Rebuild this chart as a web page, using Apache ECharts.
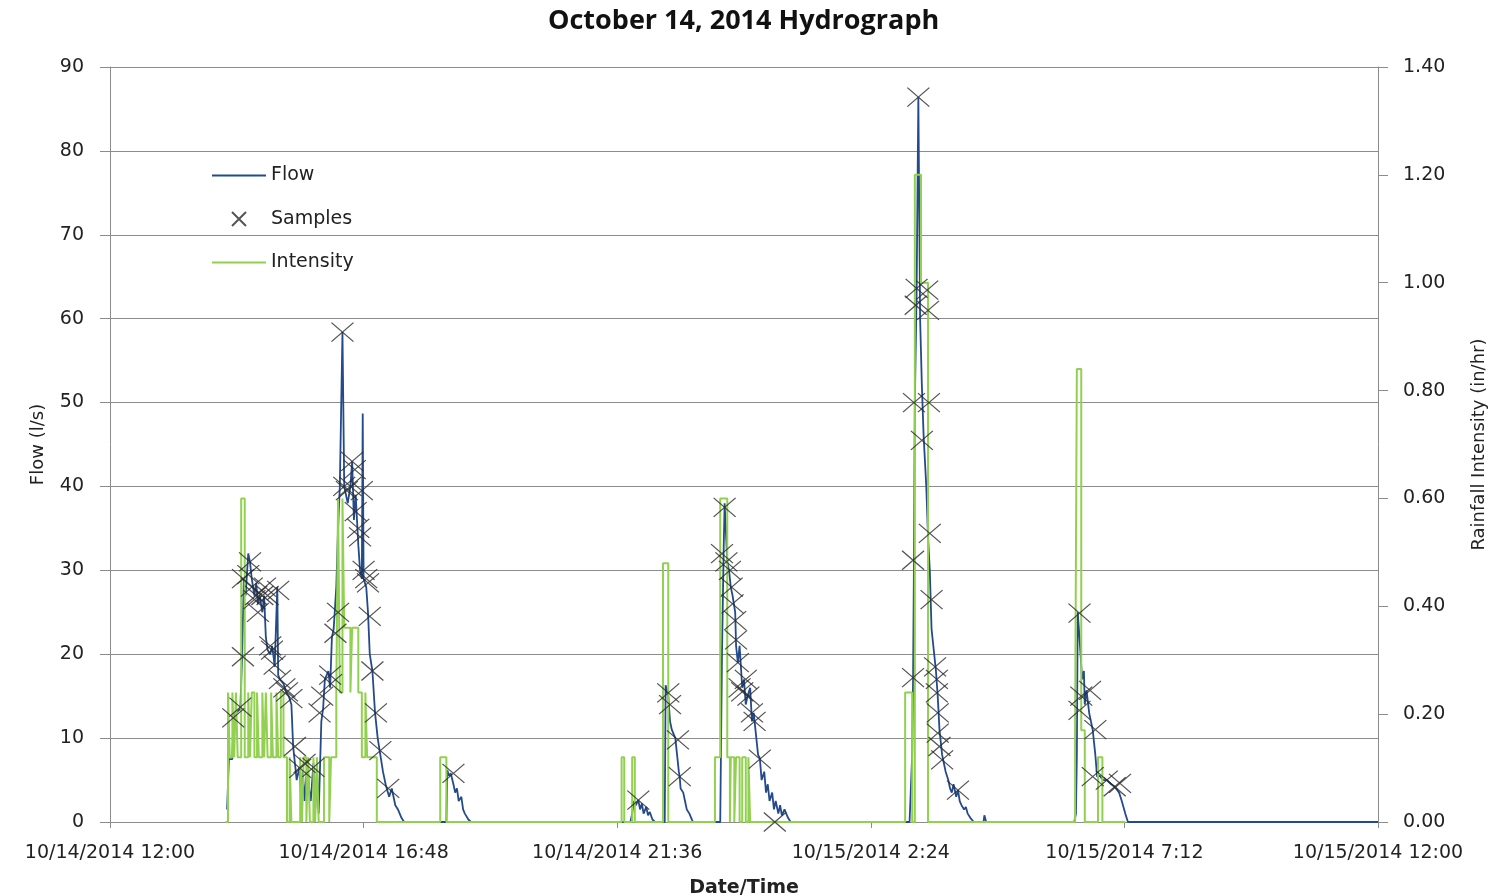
<!DOCTYPE html>
<html>
<head>
<meta charset="utf-8">
<script src="https://cdn.jsdelivr.net/npm/echarts@6/dist/echarts.min.js"></script>
<style>
html,body{margin:0;padding:0;background:#fff;overflow:hidden;}
#chart{width:1494px;height:896px;}
</style>
</head>
<body>
<div id="chart"></div>
<script>
// Time values are minutes after 10/14/2014 12:00
const xTickLabels = ['10/14/2014 12:00','10/14/2014 16:48','10/14/2014 21:36','10/15/2014 2:24','10/15/2014 7:12','10/15/2014 12:00'];

const flowTimes = [133,135,139,140,143,148,150,152,154,157,159,161,164,166,168,170,173,175,177,179,182,184,186,187,190,191,193,197,200,203,206,208,210,212,215,217,219,221,224,226,228,231,233,235,237,240,242,244,248,250,252,254,257,259,261,264,266,268,270,273,275,277,279,282,284,286,287,288,291,293,295,298,301,304,307,310,313,317,320,324,327,331,334,
382,383,385,387,390,392,394,396,399,401,403,407,410,
591,593,595,597,600,602,604,606,609,611,613,616,619,
630,631,634,636,638,642,644,646,647,648,651,653,655,658,660,662,
693,695,697,698,701,703,705,707,710,711,713,715,718,720,722,724,727,729,731,734,736,738,740,743,745,747,749,752,754,756,759,761,763,766,770,773,
908,911,912,913,914,916,918,920,922,924,927,929,931,933,936,938,940,942,945,947,949,952,954,956,958,961,963,965,967,970,972,974,977,981,992,993,995,
1095,1097,1098,1099,1101,1104,1106,1107,1109,1112,1114,1116,1119,1121,1124,1128,1132,1137,1141,1146,1149,1153,1156,1440];
const flowValues = [1.5,7.5,7.5,12.4,13,13.5,19.7,29,27,32,31,29,27,28.5,26,27,25,27,22,20.5,20,21,19.5,18.5,28,17.5,17,16.5,15.5,15,14,9,7,5,6.5,3,6,2.5,7,4,2.5,7,1.5,6,1,12,13.5,17,18,16,22,23,28,35,40,58.4,40,39,38,40,43,36,39,33,30,29,48.7,29,28,25,20,18,13,10,8,6,4.5,3,4,2,1.5,0.5,0,
0,6.2,5.5,5.8,4.5,3.5,4,2.5,3,1.5,1,0.3,0,
0,1,2.5,2,2.6,1.5,2.2,1,1.8,0.8,1.2,0.3,0,
0,16.3,15,12,11,10,9.8,6,5.4,4,3.5,2.5,1.5,1,0.5,0,
0,20,33,38,31,30,28,27,25,21,19,21,16,17,14,15,16,12,13,10,8,7.6,5,6,3.5,4.5,2.5,3.5,1.5,2.5,1,2,0.8,1.5,0.5,0,
0,8,17,31,50,63,86.4,60,52,46,40,34,30,23,20,18,15,11,8,7,6,5,4,3.5,4.5,3,3.8,2.5,2,1.5,1.8,1,0.5,0,0,0.8,0,
0,1,8,25,22,17,18,14,15.7,13,12,11,8,5.4,5.5,5,5,4.5,4.2,3.5,2.5,1,0,0];

const sampleTimes = [140,148,151,151,157,159,161,164,166,168,173,176,179,182,184,187,191,193,198,201,206,210,216,221,231,238,241,250,251,256,259,264,266,269,273,275,278,279,282,284,286,288,291,293,295,298,302,307,316,
390,600,634,636,645,647,
698,695,700,704,706,707,710,711,713,715,718,722,725,729,732,738,755,
912,912,913,915,916,918,928,929,922,930,931,933,937,939,939,940,940,942,945,963,
1101,1103,1101,1113,1119,1116,1132,1141,1147];
const sampleValues = [12.4,13.7,19.7,29,29.5,31,28,26.5,27,25,27,28,27,21,20.5,18.7,27.6,17,16,15.5,14.7,9,6.4,7,6.5,13,15,17.5,16.5,22.5,25,58.4,40,39.5,40,43,42,37,35,34,39.5,30,29,28.5,24.5,18,13,8.5,4,
5.8,2.6,15.4,14,9.8,5.4,
37.5,32,31,30,28,26,24,21.7,19,16,15.5,17,15,13,12,7.5,0,
17.2,31.2,50,61.6,63.6,86.4,63.4,61,45.5,50,34.4,26.5,18.5,17,15.4,13,10.6,9,7.4,3.8,
24.9,15,13.3,15.7,11,5.4,5,4.2,4.6];

const intensityTimes = [131,134,136,139,141,143,145,149,153,157,159,161,164,167,169,173,175,177,179,183,185,189,191,194,197,201,204,206,216,218,220,223,225,227,231,233,235,237,243,249,251,257,259,261,264,266,273,275,282,286,290,292,303,
375,382,
581,584,593,596,
628,634,
687,693,701,704,705,709,711,715,718,722,725,727,
903,911,914,921,929,
1096,1098,1103,1107,1122,1127,1153];
const intensityValues = [0,0.24,0.12,0.24,0.12,0.24,0.12,0.60,0.12,0.24,0.12,0.24,0.12,0.24,0.12,0.24,0.12,0.24,0.12,0.24,0.12,0.24,0.12,0.24,0.12,0,0.12,0,0.12,0,0.12,0,0.12,0,0.12,0,0.12,0,0.12,0,0.12,0.24,0.60,0.24,0.60,0.36,0.24,0.36,0.24,0.12,0.24,0.12,0,
0.12,0,
0.12,0,0.12,0,
0.48,0,
0.12,0.60,0.12,0,0.12,0,0.12,0,0.12,0,0.12,0,
0.24,0,1.20,1.00,0,
0.17,0.84,0.17,0,0.12,0,0];

const flowData = flowTimes.map((t,i)=>[t, flowValues[i]]);
const sampleData = sampleTimes.map((t,i)=>[t, sampleValues[i]]);
const intensityData = intensityTimes.map((t,i)=>[t, intensityValues[i]]);

const FONT = 'DejaVu Sans';
const FLOW_COLOR = '#234a8a';
const RAIN_COLOR = '#92d050';
const chart = echarts.init(document.getElementById('chart'), null, {renderer:'canvas', width:1494, height:896});
chart.setOption({
  animation:false,
  backgroundColor:'#ffffff',
  title:{
    text:'October 14, 2014 Hydrograph',
    left:543, top:3,
    textStyle:{fontFamily:'Open Sans', fontWeight:'bold', fontSize:27, color:'#111'}
  },
  legend:{
    orient:'vertical', left:206, top:161, itemGap:24.5, padding:5,
    itemWidth:54, itemHeight:14,
    textStyle:{fontFamily:FONT, fontSize:19, color:'#222'},
    data:[
      {name:'Flow', itemStyle:{opacity:0}},
      {name:'Samples'},
      {name:'Intensity', itemStyle:{opacity:0}}
    ]
  },
  grid:{left:110, right:116, top:67, bottom:74, containLabel:false, outerBoundsMode:'none'},
  xAxis:{
    type:'value', min:0, max:1440, interval:288,
    name:'Date/Time', nameLocation:'middle', nameGap:57,
    nameTextStyle:{fontFamily:FONT, fontWeight:'bold', fontSize:19, color:'#222'},
    axisLine:{lineStyle:{color:'#8c8c8c', width:1}},
    axisTick:{show:true, length:6, lineStyle:{color:'#8c8c8c'}},
    axisLabel:{fontFamily:FONT, fontSize:19, color:'#222', margin:22, showMinLabel:true, showMaxLabel:true,
      formatter:function(v){ return xTickLabels[Math.round(v/288)]; }},
    splitLine:{show:false}
  },
  yAxis:[{
    type:'value', min:0, max:90, interval:10,
    name:'Flow (l/s)', nameLocation:'middle', nameGap:63,
    nameTextStyle:{fontFamily:FONT, fontSize:18, color:'#222'},
    axisLine:{show:true, lineStyle:{color:'#8c8c8c'}},
    axisTick:{show:true, length:10, lineStyle:{color:'#8c8c8c'}},
    axisLabel:{fontFamily:FONT, fontSize:19, color:'#222', margin:26},
    splitLine:{show:true, lineStyle:{color:'#8c8c8c', width:1}}
  },{
    type:'value', min:0, max:1.4, interval:0.2, position:'right',
    name:'Rainfall Intensity (in/hr)', nameLocation:'middle', nameGap:92,
    nameTextStyle:{fontFamily:FONT, fontSize:18, color:'#222'},
    axisLine:{show:true, lineStyle:{color:'#8c8c8c'}},
    axisTick:{show:true, length:10, lineStyle:{color:'#8c8c8c'}},
    axisLabel:{fontFamily:FONT, fontSize:19, color:'#222', margin:25,
      formatter:function(v){ return v.toFixed(2); }},
    splitLine:{show:false}
  }],
  series:[{
    name:'Flow', type:'line', yAxisIndex:0, data:flowData,
    symbol:'none', z:2,
    lineStyle:{color:FLOW_COLOR, width:1.8},
    itemStyle:{color:FLOW_COLOR}
  },{
    name:'Intensity', type:'line', yAxisIndex:1, data:intensityData,
    symbol:'none', step:'end', z:3,
    lineStyle:{color:RAIN_COLOR, width:2},
    itemStyle:{color:RAIN_COLOR}
  },{
    name:'Samples', type:'scatter', yAxisIndex:0, data:sampleData,
    symbol:'path://M0,0L20,20M20,0L0,20', symbolSize:[22,19], symbolKeepAspect:true, z:4,
    itemStyle:{color:'rgba(0,0,0,0)', borderColor:'#2a2a2a', borderWidth:1.2}
  }]
});
</script>
</body>
</html>
